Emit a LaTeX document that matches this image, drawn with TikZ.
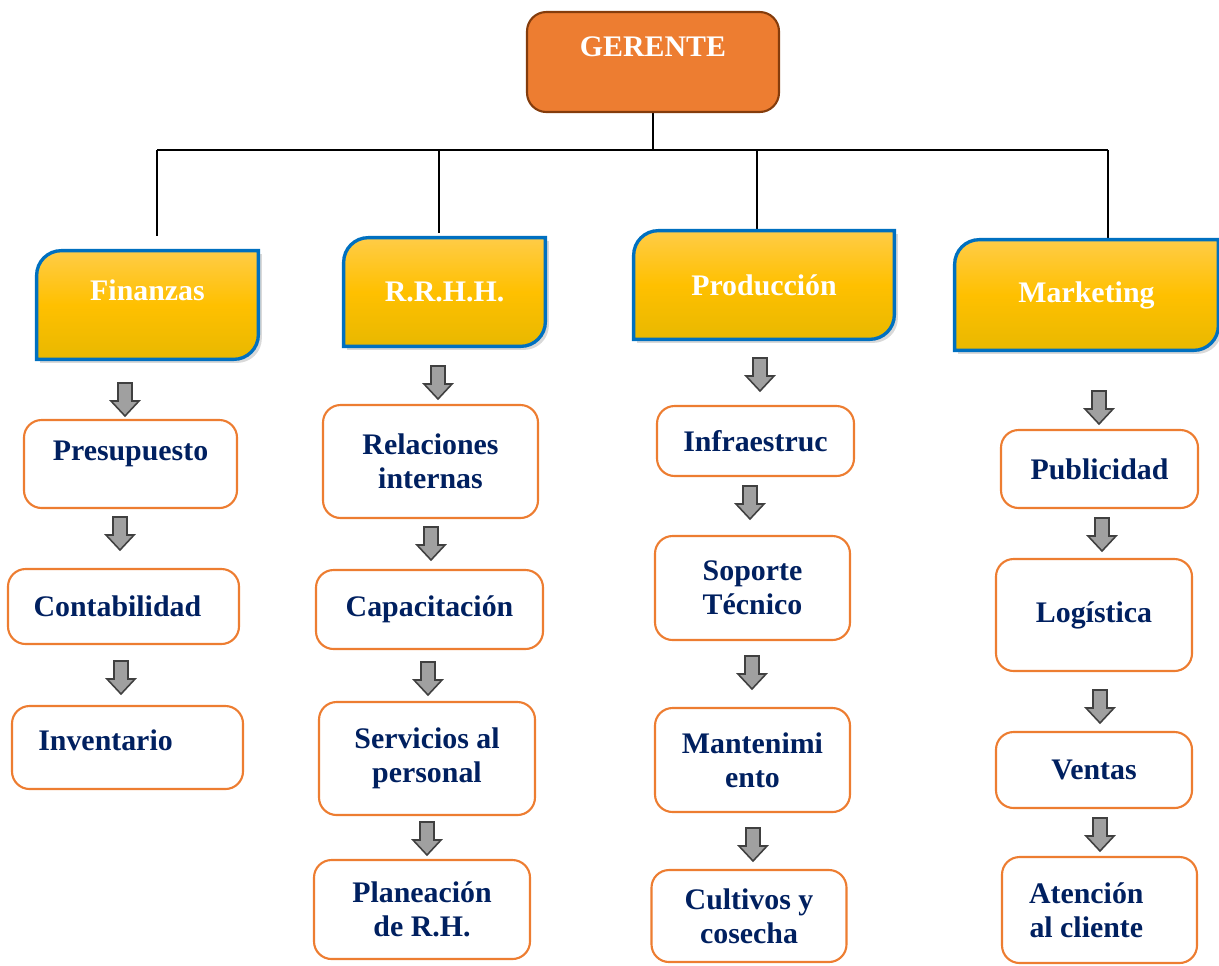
\documentclass[tikz,border=0pt]{standalone}
\usepackage{fontspec}
\setmainfont{Liberation Serif}
\usetikzlibrary{shadows,backgrounds}

\definecolor{navy}{RGB}{0,32,96}
\definecolor{boxorange}{RGB}{237,125,49}
\definecolor{gerline}{RGB}{132,60,12}
\definecolor{deptblue}{RGB}{0,112,192}
\definecolor{depttop}{RGB}{255,204,71}
\definecolor{deptmid}{RGB}{255,192,0}
\definecolor{deptbot}{RGB}{232,184,0}
\definecolor{arrowfill}{RGB}{160,160,160}
\definecolor{arrowline}{RGB}{64,64,64}

\tikzset{
  sz/.style 2 args={minimum width=#1*0.02cm, minimum height=#2*0.02cm},
  txt/.style={font=\fontsize{17}{19.5}\selectfont\bfseries, align=center, inner sep=0pt},
  sub/.style={txt, draw=boxorange, line width=1.2pt, rounded corners=10pt,
    fill=white, text=navy},
  dept/.style={txt, text=white},
  boss/.style={txt, text=white, fill=boxorange, draw=gerline, line width=1.2pt,
    rounded corners=11pt},
  bus/.style={line width=1.6pt},
  deptframe/.style={draw=deptblue, line width=1.9pt, top color=depttop,
    bottom color=deptbot, middle color=deptmid,
    drop shadow={opacity=0.3, shadow xshift=2pt, shadow yshift=-2pt}},
  garrow/.pic={\draw[fill=arrowfill, draw=arrowline, line width=0.9pt]
    (-7,0) -- (7,0) -- (7,18) -- (14,18) -- (0,33) -- (-14,18) -- (-7,18) -- cycle;}
}

% blue frame, rounded only top left and bottom right
\newcommand\frameit[1]{%
  \path[deptframe] ([yshift=-14pt]#1.north west)
    arc[start angle=180, end angle=90, radius=14pt] -- (#1.north east)
    -- ([yshift=14pt]#1.south east)
    arc[start angle=0, end angle=-90, radius=14pt] -- (#1.south west) -- cycle;}

\begin{document}
\begin{tikzpicture}[x=0.02cm, y=-0.02cm]
  \useasboundingbox (0,0) rectangle (1219,965);

  \node[boss, sz={252}{100}, text depth=17pt] (ger) at (653,62) {GERENTE};

  % departments
  \node[dept, sz={221}{108}, text depth=17pt] (fin) at (147.5,305) {Finanzas};
  \node[dept, sz={201}{108}] (rrhh) at (444.5,292) {R.R.H.H.};
  \node[dept, sz={260}{108}] (prod) at (764,285) {Producción};
  \node[dept, sz={263}{110}] (mark) at (1086.5,295) {Marketing};

  \begin{pgfonlayer}{background}
    \coordinate (busL) at (157,150);
    \coordinate (busR) at (1108,150);
    \coordinate (finDrop) at (157,236);
    \coordinate (rrhhDrop) at (439,233);
    \coordinate (prodDrop) at (757,238);
    \coordinate (markDrop) at (1108,238);
    \draw[bus] (busL) -- (busR);
    \draw[line width=1.2pt] (ger.south) -- (ger.south |- busL);
    \foreach \d in {finDrop,rrhhDrop,prodDrop,markDrop}
      \draw[bus] (\d |- busL) -- (\d);
    \foreach \d in {fin,rrhh,prod,mark} {\frameit{\d}}
  \end{pgfonlayer}

  % Finanzas
  \node[sub, sz={213}{88}, text depth=15pt] (pres) at (130.5,464) {Presupuesto};
  \node[sub, sz={231}{75}] (cont) at (123.5,606.5) {Contabilidad\hspace*{7pt}};
  \node[sub, sz={231}{83}, text depth=8pt] (inv) at (127.5,747.5) {Inventario\hspace*{25pt}};
  \pic at (125,383) {garrow};
  \pic at (120,517) {garrow};
  \pic at (121,661) {garrow};

  % R.R.H.H.
  \node[sub, sz={215}{113}] (rel) at (430.5,461.5) {Relaciones\\internas};
  \node[sub, sz={227}{79}] (cap) at (429.5,609.5) {Capacitación};
  \node[sub, sz={216}{113}] (serv) at (427,758.5) {Servicios al\\personal};
  \node[sub, sz={216}{99}] (plan) at (422,909.5) {Planeación\\de R.H.};
  \pic at (438,366) {garrow};
  \pic at (431,527) {garrow};
  \pic at (428,662) {garrow};
  \pic at (427,822) {garrow};

  % Produccion
  \node[sub, sz={197}{70}] (infra) at (755.5,441) {Infraestruc};
  \node[sub, sz={195}{104}] (sop) at (752.5,588) {Soporte\\Técnico};
  \node[sub, sz={195}{104}] (mant) at (752.5,760) {Mantenimi\\ento};
  \node[sub, sz={195}{92}] (cult) at (749,916) {Cultivos y\\cosecha};
  \pic at (760,358) {garrow};
  \pic at (750,486) {garrow};
  \pic at (752,656) {garrow};
  \pic at (753,828) {garrow};

  % Marketing
  \node[sub, sz={197}{78}] (pub) at (1099.5,469) {Publicidad};
  \node[sub, sz={196}{112}] (log) at (1094,615) {Logística};
  \node[sub, sz={196}{76}] (vent) at (1094,770) {Ventas};
  \node[sub, sz={195}{106}] (aten) at (1099.5,910)
    {Atención\hspace*{15pt}\\al cliente\hspace*{15pt}};
  \pic at (1099,391) {garrow};
  \pic at (1102,518) {garrow};
  \pic at (1100,690) {garrow};
  \pic at (1100,818) {garrow};
\end{tikzpicture}
\end{document}
